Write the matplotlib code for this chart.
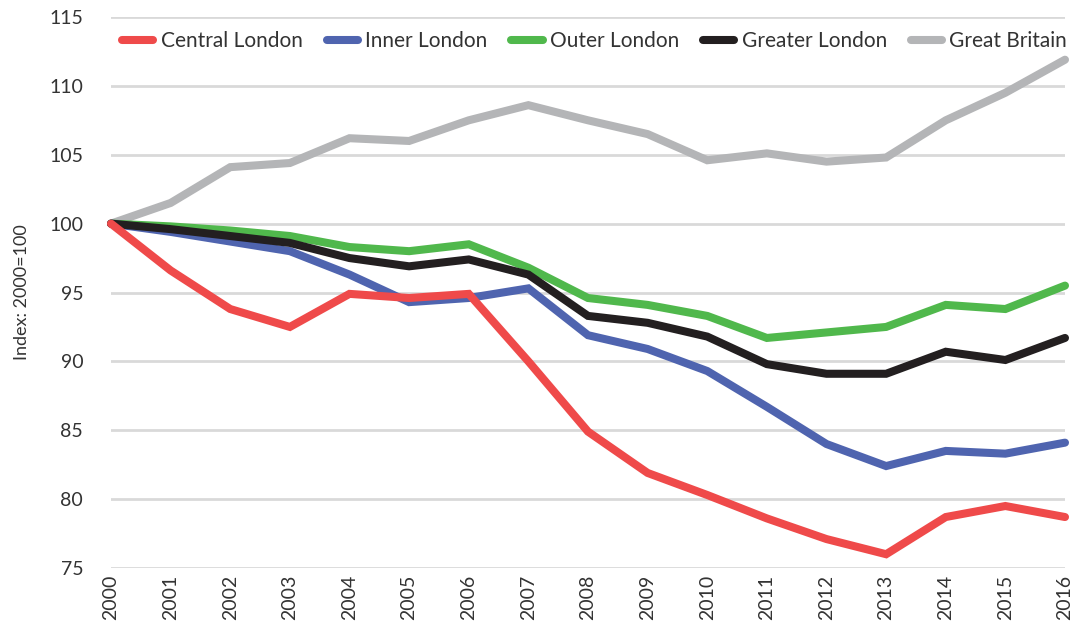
import matplotlib
matplotlib.use('Agg')
import matplotlib.pyplot as plt

plt.rcParams['font.family'] = ['Lato', 'DejaVu Sans']

years = list(range(2000, 2017))
central = [100, 96.6, 93.8, 92.5, 94.9, 94.6, 94.9, 90.0, 84.9, 81.9, 80.3, 78.6, 77.1, 76.0, 78.7, 79.5, 78.7]
inner = [100, 99.4, 98.7, 98.0, 96.3, 94.3, 94.6, 95.3, 91.9, 90.9, 89.3, 86.7, 84.0, 82.4, 83.5, 83.3, 84.1]
outer = [100, 99.8, 99.5, 99.1, 98.3, 98.0, 98.5, 96.8, 94.6, 94.1, 93.3, 91.7, 92.1, 92.5, 94.1, 93.8, 95.5]
greater = [100, 99.6, 99.1, 98.6, 97.5, 96.9, 97.4, 96.3, 93.3, 92.8, 91.8, 89.8, 89.1, 89.1, 90.7, 90.1, 91.7]
britain = [100, 101.5, 104.1, 104.4, 106.2, 106.0, 107.5, 108.6, 107.5, 106.5, 104.6, 105.1, 104.5, 104.8, 107.5, 109.5, 111.9]

series = [
    ('Central London', central, '#EF4A4A'),
    ('Inner London', inner, '#4F64AF'),
    ('Outer London', outer, '#50B84C'),
    ('Greater London', greater, '#231F20'),
    ('Great Britain', britain, '#B4B5B7'),
]
draw_order = [4, 2, 1, 3, 0]  # grey at back, red on top

fig = plt.figure(figsize=(10.76, 6.37), dpi=100)
ax = fig.add_axes([111 / 1076, 1 - 568 / 637, (1065 - 111) / 1076, (568 - 17) / 637])

handles = {}
for i in draw_order:
    name, vals, col = series[i]
    ln, = ax.plot(years, vals, color=col, lw=5.8, solid_capstyle='round',
                  solid_joinstyle='miter', label=name, clip_on=False, zorder=3)
    handles[i] = ln

ax.set_xlim(2000, 2016)
ax.set_ylim(75, 115)
ax.set_yticks(range(75, 116, 5))
ax.set_xticks(years)
ax.set_xticklabels([str(y) for y in years], rotation=90)
ax.yaxis.grid(True, color='#D9D9D9', lw=2)
ax.set_axisbelow(True)
for s in ax.spines.values():
    s.set_visible(False)
ax.tick_params(axis='both', length=0, labelsize=14, colors='#333333')
ax.tick_params(axis='y', pad=20)
ax.tick_params(axis='x', pad=5)
ax.set_ylabel('Index: 2000=100', fontsize=13, color='#333333', labelpad=14)

leg = ax.legend([handles[i] for i in range(5)], [s[0] for s in series],
                loc='upper left', bbox_to_anchor=(0.003, 0.99), ncol=5, frameon=False,
                fontsize=15, handlelength=1.5, handletextpad=0.35, columnspacing=1.15,
                borderaxespad=0.0)
for t in leg.get_texts():
    t.set_color('#333333')

fig.savefig('out.png', dpi=100, facecolor='white')
